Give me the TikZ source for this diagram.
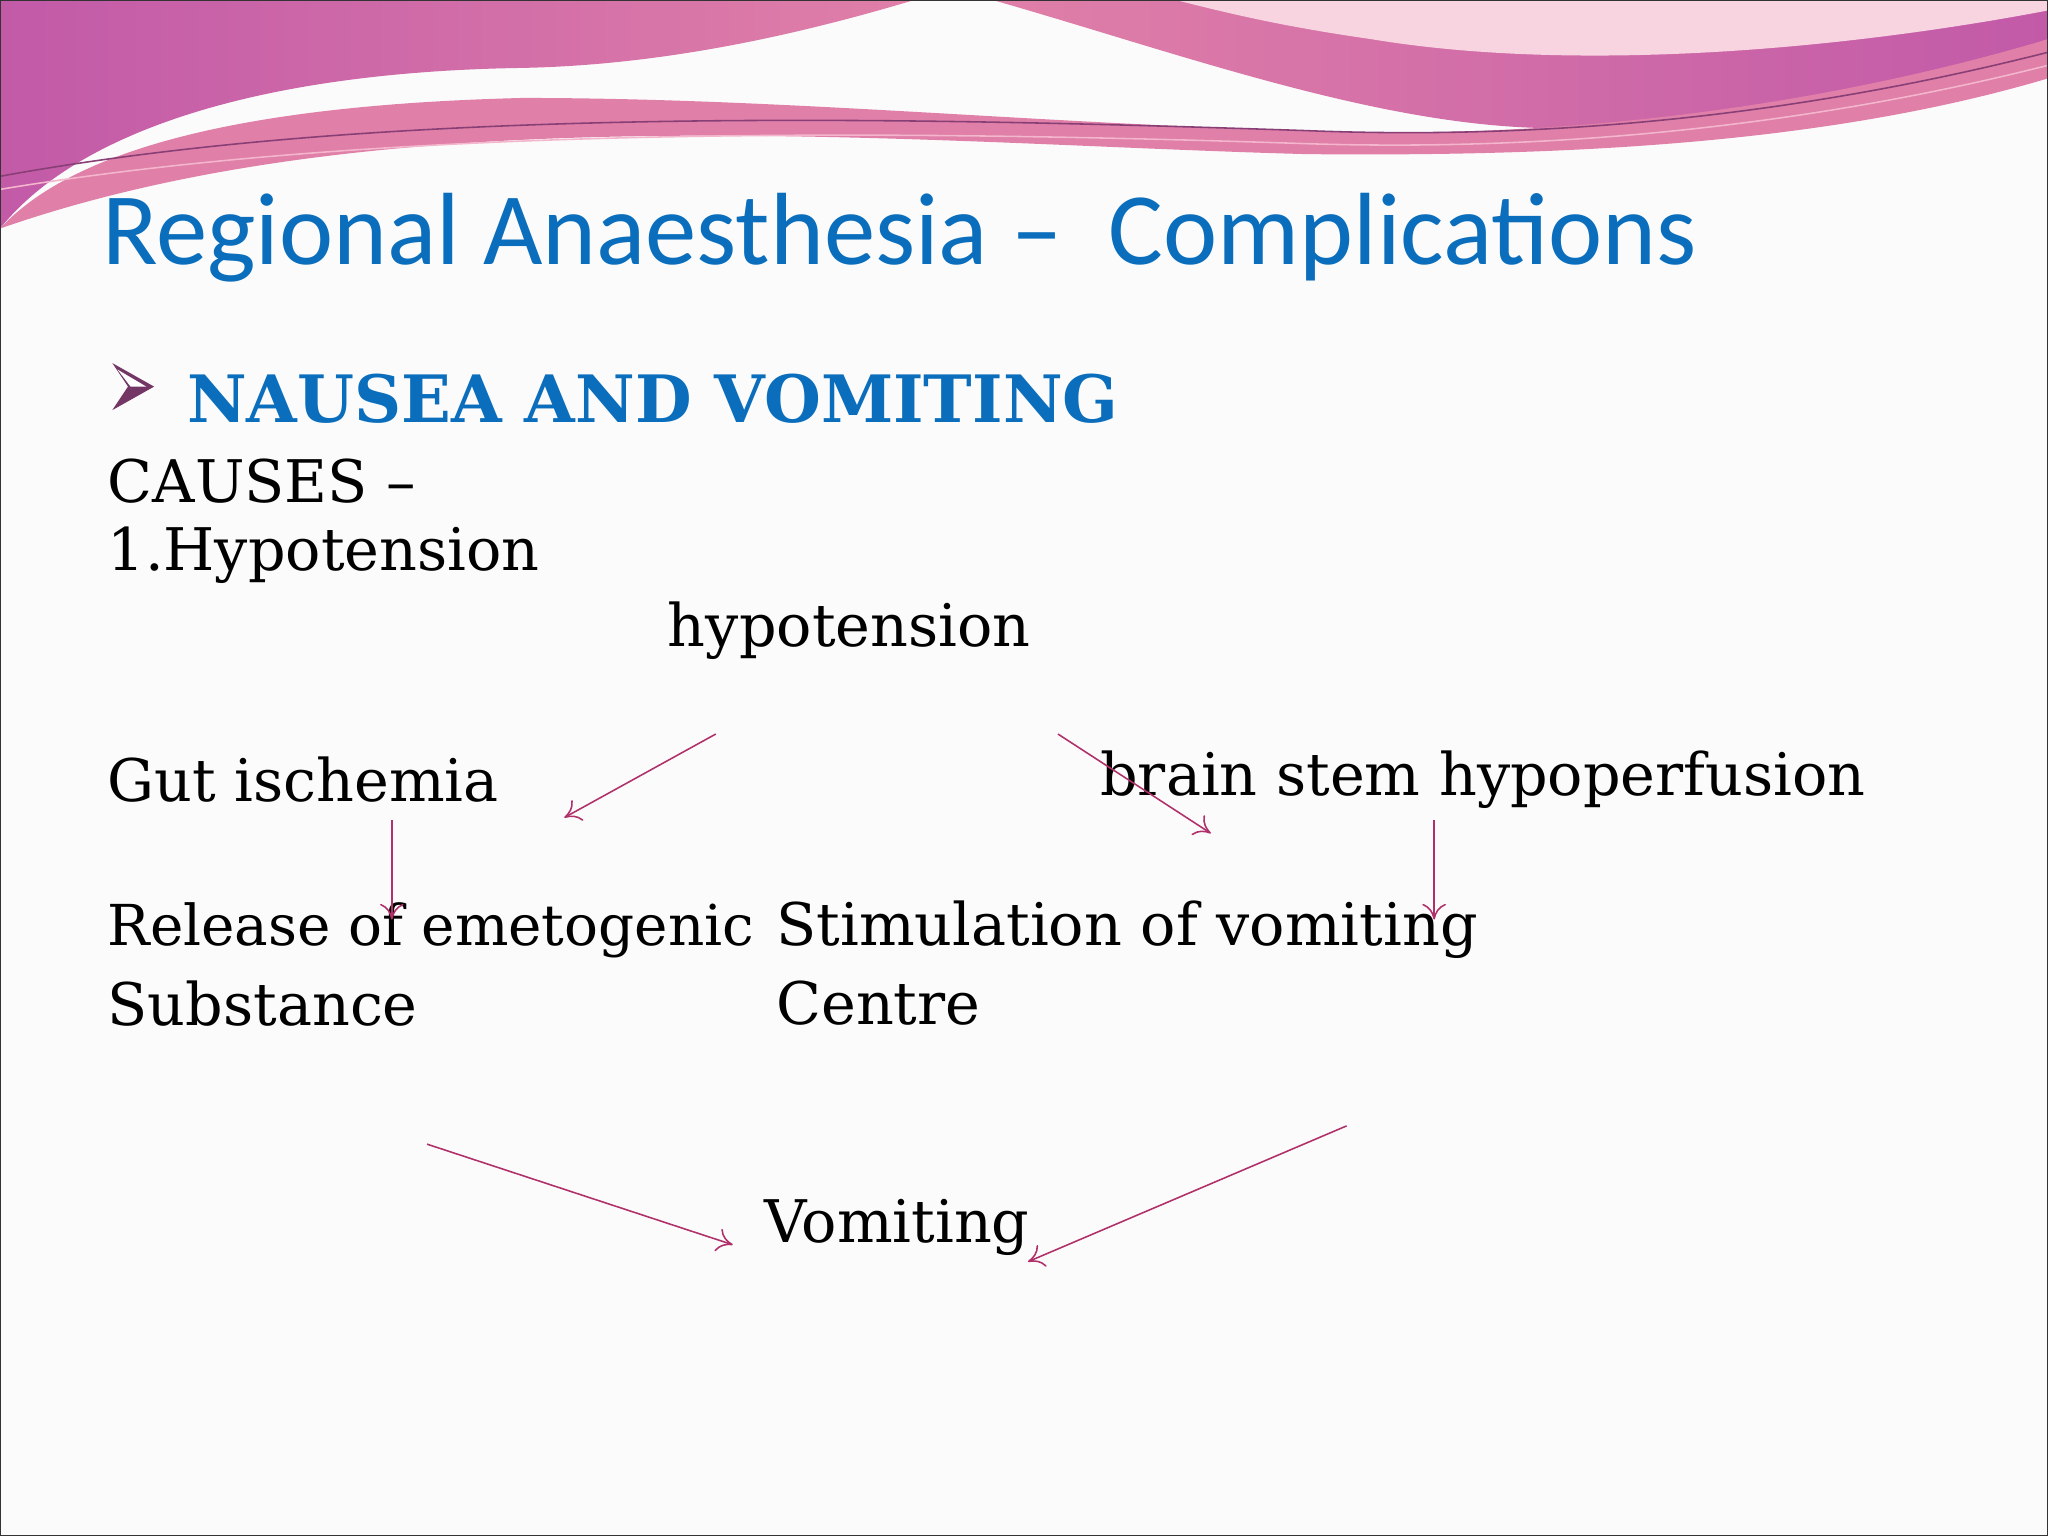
\documentclass[tikz,border=0pt]{standalone}
\usepackage{fontspec}
\setmainfont{DejaVu Serif}
\newfontfamily\titlefont{Carlito}
\usetikzlibrary{arrows.meta}
\definecolor{tblue}{HTML}{0A6EBD}
\definecolor{arr}{HTML}{B0306A}
\definecolor{pinkA}{HTML}{E07FA8}
\definecolor{pinkB}{HTML}{C25AA8}
\definecolor{pinkC}{HTML}{F3B6CC}
\tikzset{
 body/.style={anchor=west,font=\fontsize{22.5}{26}\selectfont,inner sep=0pt},
 conn/.style={draw=arr,line width=0.6pt,-{To[length=6pt,width=9pt]}}
}
\begin{document}
\begin{tikzpicture}[x=0.5pt,y=-0.5pt]
\useasboundingbox (0,0) rectangle (1568,1176);
\fill[gray!3] (0,0) rectangle (1568,1176);
% header decoration
\shade[left color=pinkB,right color=pinkA] (0,0) -- (700,0) .. controls (600,30) and (500,50) .. (400,52)
  .. controls (200,55) and (60,100) .. (0,175) -- cycle;
\shade[left color=pinkA,right color=pinkB] (760,0) -- (1568,0) -- (1568,30) .. controls (1450,70) and (1300,100) .. (1180,98)
  .. controls (1050,95) and (900,40) .. (760,0) -- cycle;
\fill[white!40!pinkC] (900,0) -- (1568,0) -- (1568,8) .. controls (1400,40) and (1200,55) .. (1050,30) .. controls (980,20) and (940,10) .. (900,0) -- cycle;
\fill[pinkA] (0,175) .. controls (60,110) and (200,80) .. (400,75) .. controls (600,75) and (800,95) .. (1000,100)
  .. controls (1200,108) and (1400,80) .. (1568,30) -- (1568,60) .. controls (1400,110) and (1200,120) .. (1000,118)
  .. controls (700,110) and (300,70) .. (0,175) -- cycle;
\draw[pinkB!70!black,line width=0.6pt] (0,135) .. controls (300,80) and (700,90) .. (1000,100) .. controls (1250,110) and (1450,70) .. (1568,40);
\draw[pinkC,line width=0.6pt] (0,145) .. controls (300,95) and (700,100) .. (1000,110) .. controls (1250,118) and (1450,80) .. (1568,50);
\draw[black!80,line width=0.8pt] (0,0) rectangle (1568,1176);
% title
\node[anchor=west,inner sep=0pt,text=tblue,font=\titlefont\fontsize{39.3}{45}\selectfont] (title) at (78,182) {Regional Anaesthesia –\ \ Complications};
\fill[pinkB!60!black] (86,278) -- (118,296) -- (86,314) -- (98,296) -- cycle;
\fill[white] (90,283) -- (112,296) -- (100,296) -- cycle;
\node[anchor=west,inner sep=0pt,text=tblue,font=\bfseries\fontsize{25}{30}\selectfont] (nv) at (143,305) {NAUSEA AND VOMITING};
\node[body] (causes) at (82,368) {CAUSES –};
\node[body] (h1) at (82,425) {1.Hypotension};
\node[body] (hyp) at (511,483) {hypotension};
\node[body] (gut) at (82,597) {Gut ischemia};
\node[body] (brain) at (842,597) {brain stem hypoperfusion};
\node[body,font=\fontsize{21.6}{26}\selectfont] (rel) at (82,712) {Release of emetogenic};
\node[body] (stim) at (594,712) {Stimulation of vomiting};
\node[body] (sub) at (82,768) {Substance};
\node[body] (cen) at (594,768) {Centre};
\node[body] (vom) at (585,940) {Vomiting};
% connectors
\coordinate (a1) at (548,562); \coordinate (a2) at (432,626);
\coordinate (b1) at (810,562); \coordinate (b2) at (927,638);
\coordinate (c1) at (300,628); \coordinate (c2) at (300,704);
\coordinate (d1) at (1098,628); \coordinate (d2) at (1098,704);
\coordinate (e1) at (327,876); \coordinate (e2) at (561,953);
\coordinate (f1) at (1031,862); \coordinate (f2) at (787,966);
\draw[conn] (a1) -- (a2);
\draw[conn] (b1) -- (b2);
\draw[conn] (c1) -- (c2);
\draw[conn] (d1) -- (d2);
\draw[conn] (e1) -- (e2);
\draw[conn] (f1) -- (f2);
\end{tikzpicture}
\end{document}
